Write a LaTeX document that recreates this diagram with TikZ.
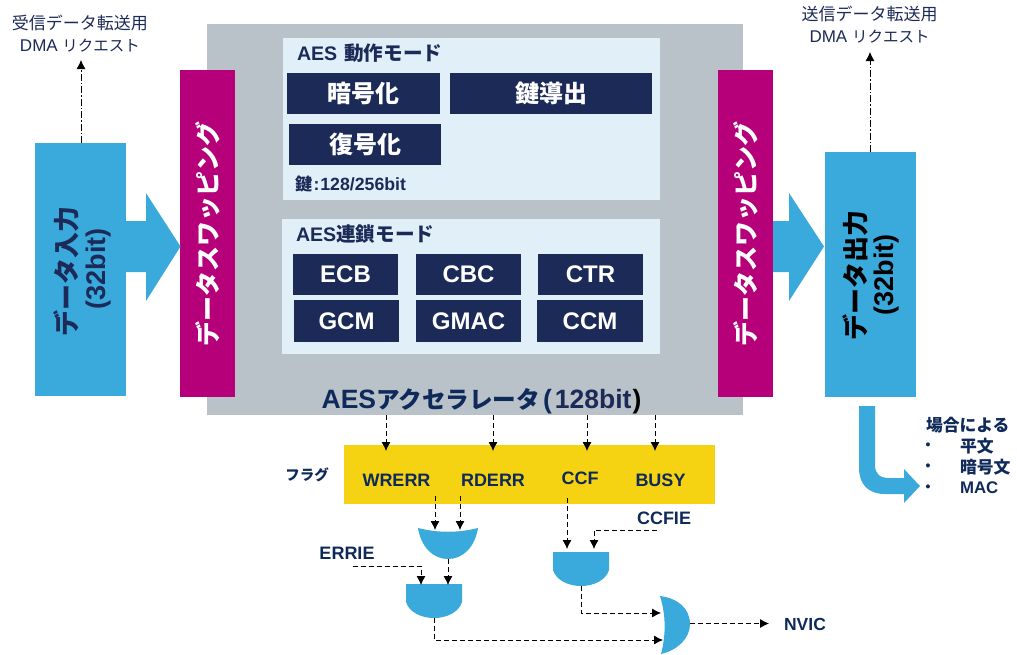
\documentclass[tikz,border=0pt]{standalone}
\usepackage{fontspec}
\setmainfont{Liberation Sans}
\newfontfamily\jp{Noto Sans CJK JP}
\newcommand{\J}[1]{{\jp #1}}
\newcommand{\JS}[2]{{\jp\fontsize{#1}{#1}\selectfont #2}}
\usetikzlibrary{arrows.meta}
\definecolor{cblue}{HTML}{3AA9DC}
\definecolor{cmag}{HTML}{B5007A}
\definecolor{cgray}{HTML}{B8C2C8}
\definecolor{cpanel}{HTML}{E1EFF9}
\definecolor{cnavy}{HTML}{1C2A58}
\definecolor{cyel}{HTML}{F5D312}
\definecolor{ctxt}{HTML}{0F2A5A}
\tikzset{
 x=1pt,y=-1pt,
 plain/.style={inner sep=0pt,outer sep=0pt},
 dark/.style={plain,fill=cnavy,text=white,font=\bfseries\fontsize{24}{26}\selectfont},
 head/.style={plain,text=cnavy,font=\bfseries\fontsize{19.6}{21}\selectfont},
 flag/.style={plain,text=ctxt,font=\bfseries\fontsize{18}{20}\selectfont},
 dmatext/.style={plain,text=cnavy,align=center,font=\fontsize{17}{22}\selectfont},
 sidetext/.style={plain,text=ctxt,font=\bfseries\fontsize{16.8}{18}\selectfont},
 conn/.style={black,dash pattern=on 5pt off 3pt,line width=0.8pt,-{Latex[length=9pt,width=9pt]}},
 dconn/.style={black,dash pattern=on 7pt off 2pt on 1.5pt off 2pt,line width=0.8pt,-{Latex[length=9pt,width=9pt]}},
 gate/.style={fill=cblue,draw=none},
 vert/.style={plain,rotate=90,align=center},
}
\begin{document}
\begin{tikzpicture}
\useasboundingbox (0,0) rectangle (1017,654);
% main block
\node[plain,fill=cgray,minimum width=536pt,minimum height=391pt] (main) at (475,219.5) {};
\node[plain,fill=cpanel,minimum width=377pt,minimum height=162pt] (p1) at (471.5,119) {};
\node[plain,fill=cpanel,minimum width=378pt,minimum height=135pt] (p2) at (471,286.5) {};
\node[head,anchor=west] (t1) at (297,53) {AES\hspace{7pt}\J{動作モード}};
\node[head,anchor=west] (t2) at (296,234.5) {AES\J{連鎖モード}};
\node[dark,minimum width=153pt,minimum height=41pt] (enc) at (363.5,93.5) {\J{暗号化}};
\node[dark,minimum width=202pt,minimum height=41pt] (kd) at (551,93.5) {\J{鍵導出}};
\node[dark,minimum width=152pt,minimum height=41pt] (dec) at (365,144.5) {\J{復号化}};
\node[plain,anchor=west,text=cnavy,font=\bfseries\fontsize{17.7}{19}\selectfont] (key) at (295,184) {\JS{17}{鍵}\hspace{1.5pt}:\hspace{1pt}128/256bit};
\foreach \n/\t/\cx/\cy/\w/\h in {ecb/ECB/345.5/274.5/105/41,cbc/CBC/468.5/274.5/105/41,ctr/CTR/590.5/274.5/105/41,gcm/GCM/346.5/321/105/42,gmac/GMAC/468.5/321/105/42,ccm/CCM/590/321/106/42}
  \node[dark,minimum width=\w pt,minimum height=\h pt] (\n) at (\cx,\cy) {\t};
\node[plain,text=ctxt,font=\bfseries\fontsize{26.5}{28}\selectfont] (acc) at (481.5,401) {AES\JS{23.6}{アクセラレータ}\hspace{3pt}{\color{ctxt}(}\hspace{3pt}{\color{cnavy}128bit}\hspace{1pt}{\color{black})}};
% swapping
\node[plain,fill=cmag,minimum width=55pt,minimum height=327pt] (swl) at (207.5,233.5) {};
\node[plain,fill=cmag,minimum width=55pt,minimum height=327pt] (swr) at (745.5,233.5) {};
\node[vert,text=white,font=\bfseries\fontsize{25}{28}\selectfont] (swlt) at (swl.center) {\J{データスワッピング}};
\node[vert,text=white,font=\bfseries\fontsize{25}{28}\selectfont] (swrt) at (swr.center) {\J{データスワッピング}};
% in/out
\node[plain,fill=cblue,minimum width=91pt,minimum height=253pt] (in) at (80.5,269.5) {};
\node[plain,fill=cblue,minimum width=91pt,minimum height=245pt] (out) at (870.5,274.5) {};
\node[vert,text=cnavy,font=\bfseries\fontsize{26}{28}\selectfont] (int1) at (66,271.5) {\J{データ入力}};
\node[vert,text=cnavy,font=\bfseries\fontsize{27}{28}\selectfont] (int2) at (99,269) {(32bit)};
\node[vert,text=black,font=\bfseries\fontsize{26}{28}\selectfont] (outt1) at (855,275.5) {\J{データ出力}};
\node[vert,text=black,font=\bfseries\fontsize{27}{28}\selectfont] (outt2) at (887,275) {(32bit)};
% fat arrows
\fill[cblue] (126,221) -- (146,221) -- (146,193) -- (180.5,246.5) -- (146,301) -- (146,272) -- (126,272) -- cycle;
\fill[cblue] (773,221) -- (789,221) -- (789,193) -- (824,246.5) -- (789,301) -- (789,272) -- (773,272) -- cycle;
\fill[cblue] (859,406) -- (875,406) -- (875,465) .. controls (875,474) and (880,478) .. (889,478) -- (904,478) -- (904,469) -- (920,486) -- (904,503) -- (904,494) -- (885,494) .. controls (868,494) and (859,484) .. (859,468) -- cycle;
% DMA
\node[dmatext] (dmal) at (80,34) {\J{受信データ転送用}\\DMA \JS{15.5}{リクエスト}};
\node[dmatext] (dmar) at (869.5,25) {\J{送信データ転送用}\\DMA \JS{15.5}{リクエスト}};
\coordinate (dl) at (81,60);
\coordinate (dr) at (870,52);
\draw[dconn] (in.north -| dl) -- (dl);
\draw[dconn] (out.north -| dr) -- (dr);
% side list
\node[sidetext,anchor=west] (cs) at (926,425) {\J{場合による}};
\foreach \n/\y/\t in {a/446/\J{平文},b/467/\J{暗号文},c/488/MAC}{
  \node[plain,text=ctxt,font=\bfseries\fontsize{14}{16}\selectfont] (b\n) at (928,\y) {•};
  \node[sidetext,anchor=west] (l\n) at (960,\y) {\t};
}
% flags
\node[plain,fill=cyel,minimum width=371pt,minimum height=59pt] (flags) at (529.5,474.5) {};
\node[plain,text=ctxt,font=\bfseries\fontsize{14.5}{17}\selectfont] (fl) at (307,475) {\J{フラグ}};
\node[flag] (wr) at (396.5,480) {WRERR};
\node[flag] (rd) at (493,480) {RDERR};
\node[flag] (ccf) at (580,478) {CCF};
\node[flag] (busy) at (660.5,480) {BUSY};
\node[flag] (errie) at (347,553) {ERRIE};
\node[flag] (ccfie) at (664,518) {CCFIE};
\node[plain,text=ctxt,font=\bfseries\fontsize{17.5}{18}\selectfont] (nvic) at (805,624) {NVIC};
% gates
\fill[gate] (418,528) .. controls (438,533) and (458,533) .. (478,528) .. controls (475,547) and (463,559) .. (448,559) .. controls (433,559) and (421,547) .. (418,528) -- cycle;
\fill[gate] (406,584) -- (462,584) -- (462,602) .. controls (459,612) and (447,618) .. (434,618) .. controls (421,618) and (409,612) .. (406,602) -- cycle;
\fill[gate] (553,552) -- (609,552) -- (609,570) .. controls (606,580) and (594,586) .. (581,586) .. controls (568,586) and (556,580) .. (553,570) -- cycle;
\fill[gate] (660,596) .. controls (677,598) and (690,608) .. (690,624) .. controls (690,638) and (678,650) .. (661,654) .. controls (666,635) and (666,615) .. (660,596) -- cycle;
\coordinate (g1top1) at (435,530);
\coordinate (g1top2) at (460,530);
\coordinate (g1out) at (448,559);
\coordinate (g2in1) at (421,585);
\coordinate (g2in2) at (448,585);
\coordinate (g2out) at (434,618);
\coordinate (g3in1) at (567,549);
\coordinate (g3in2) at (594,549);
\coordinate (g3out) at (581,586);
\coordinate (g4in1) at (661,613);
\coordinate (g4in2) at (663,640);
\coordinate (g4out) at (690,623.5);
\coordinate (nv) at (769,623.5);
\coordinate (errs) at (353,566);
\coordinate (ccfs) at (657,530);
% connectors
\foreach \x in {386,493,587,655}{
  \coordinate (ft) at (\x,451);
  \draw[conn] (ft |- main.south) -- (ft);
}
\draw[conn] (g1top1 |- flags.south) ++(0,-8) -- (g1top1);
\draw[conn] (g1top2 |- flags.south) ++(0,-8) -- (g1top2);
\draw[conn] (g3in1 |- flags.south) ++(0,-6) -- (g3in1);
\draw[conn] (g1out) -- (g2in2);
\draw[conn] (errs) -| (g2in1);
\draw[conn] (ccfs) -| (g3in2);
\draw[conn] (g3out) |- (g4in1);
\draw[conn] (g2out) |- (g4in2);
\draw[conn] (g4out) -- (nv);
\end{tikzpicture}
\end{document}
